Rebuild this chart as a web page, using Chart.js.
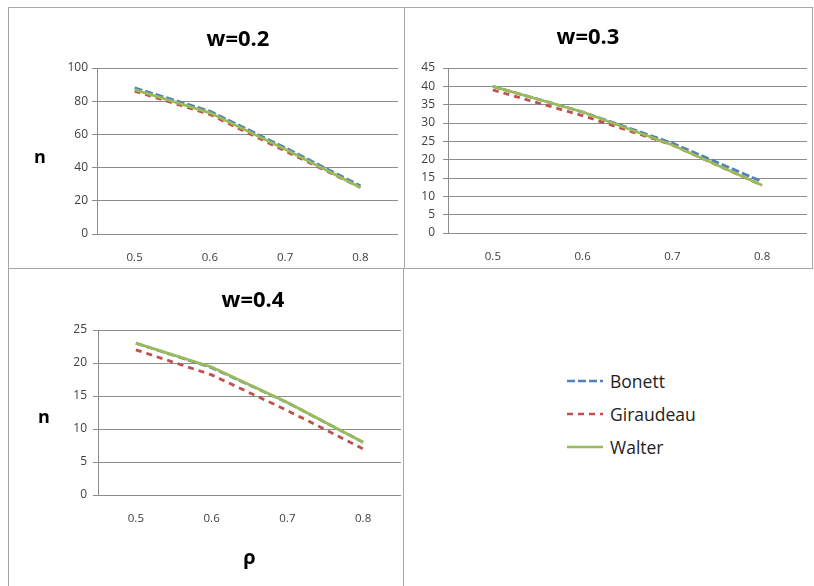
<!DOCTYPE html>
<html>
<head>
<meta charset="utf-8">
<script src="https://cdn.jsdelivr.net/npm/chart.js@4.4.0/dist/chart.umd.min.js"></script>
<style>
  body { margin: 0; background: #fff; font-family: 'Open Sans', sans-serif; }
  #page { position: relative; width: 814px; height: 586px; overflow: hidden; }
  .panel { position: absolute; border: 1px solid #a6a6a6; box-sizing: border-box; }
  canvas { position: absolute; }
  .ttl { position: absolute; font-weight: bold; font-size: 22px; color: #000; transform: translate(-50%, -50%); white-space: nowrap; }
  .ylab { position: absolute; font-weight: bold; font-size: 18px; color: #000; transform: translate(-50%, -50%); }
  .legend { position: absolute; left: 566px; top: 364px; font-size: 17.5px; color: #222; }
  .legend div { height: 33px; display: flex; align-items: center; }
  .legend svg { margin-right: 6px; }
</style>
</head>
<body>
<div id="page">
  <div class="panel" style="left:8px; top:7px; width:397px; height:262px;"></div>
  <div class="panel" style="left:404px; top:7px; width:409px; height:262px;"></div>
  <div class="panel" style="left:8px; top:268px; width:396px; height:330px;"></div>

  <canvas id="c1" width="394" height="259" style="left:9px; top:8px;"></canvas>
  <canvas id="c2" width="406" height="259" style="left:405px; top:8px;"></canvas>
  <canvas id="c3" width="393" height="317" style="left:9px; top:269px;"></canvas>

  <div class="ttl" style="left:238px; top:37px;">w=0.2</div>
  <div class="ttl" style="left:588px; top:35px;">w=0.3</div>
  <div class="ttl" style="left:253px; top:298px;">w=0.4</div>
  <div class="ylab" style="left:40px; top:156px;">n</div>
  <div class="ylab" style="left:44px; top:416px;">n</div>

  <div class="legend" id="legend"></div>
</div>
<script>
// 横轴 ρ
const rho = ['0.5', '0.6', '0.7', '0.8'];

// w=0.2
const bonett02 = [88, 74, 52, 29];
const giraudeau02 = [86, 72, 50, 28];
const walter02 = [87, 73, 51, 28];

// w=0.3
const bonett03 = [40, 33, 24.5, 14];
const giraudeau03 = [39, 32, 24, 13];
const walter03 = [40, 33, 24, 13];

// w=0.4
const bonett04 = [23, 19.3, 14, 8];
const giraudeau04 = [22, 18.2, 12.8, 7];
const walter04 = [23, 19.4, 14, 8];

const seriesNames = ['Bonett', 'Giraudeau', 'Walter'];
const seriesColors = ['#4f81bd', '#c0504d', '#9bbb59'];
const seriesDash = [[8, 3], [6, 5], []];
const seriesOrder = [2, 1, 0]; // Walter 画在最上面

const gridColor = '#8c8c8c';
const tickColor = '#404040';

function buildDatasets(values) {
    return seriesNames.map((name, i) => ({
        label: name,
        data: values[i],
        borderColor: seriesColors[i],
        backgroundColor: seriesColors[i],
        borderWidth: 2.8,
        borderDash: seriesDash[i],
        pointRadius: 0,
        tension: 0,
        order: seriesOrder[i]
    }));
}

function makeChart(id, values, yMax, step, box) {
    const ctx = document.getElementById(id);
    return new Chart(ctx, {
        type: 'line',
        data: {
            labels: rho,
            datasets: buildDatasets(values)
        },
        options: {
            responsive: false,
            animation: false,
            events: [],
            layout: {
                padding: { top: box.top, right: box.right, left: 0, bottom: 0 }
            },
            plugins: {
                legend: { display: false },
                tooltip: { enabled: false }
            },
            scales: {
                x: {
                    offset: true,
                    grid: { display: false, drawTicks: false },
                    border: { display: false },
                    ticks: {
                        font: { family: 'Open Sans', size: 11.5 },
                        color: tickColor,
                        padding: 17,
                        maxRotation: 0
                    },
                    title: box.xTitle ? {
                        display: true,
                        text: box.xTitle,
                        font: { family: 'Open Sans', size: 20, weight: 'bold' },
                        color: '#000',
                        padding: { top: 0, bottom: 16 }
                    } : { display: false },
                    afterFit: function(scale) { scale.height = box.xHeight; }
                },
                y: {
                    min: 0,
                    max: yMax,
                    ticks: {
                        stepSize: step,
                        font: { family: 'Open Sans', size: 12 },
                        color: tickColor,
                        padding: box.tickPad
                    },
                    grid: {
                        color: gridColor,
                        tickColor: gridColor,
                        tickLength: 5
                    },
                    border: { color: gridColor },
                    afterFit: function(scale) { scale.width = box.yWidth; }
                }
            }
        }
    });
}

makeChart('c1', [bonett02, giraudeau02, walter02], 100, 20,
    { top: 60, right: 5, yWidth: 88, xHeight: 33, tickPad: 4 });
makeChart('c2', [bonett03, giraudeau03, walter03], 45, 5,
    { top: 60, right: 4, yWidth: 43, xHeight: 34, tickPad: 8 });
makeChart('c3', [bonett04, giraudeau04, walter04], 25, 5,
    { top: 61, right: 1, yWidth: 89, xHeight: 91, tickPad: 6, xTitle: 'ρ' });

// 图例
const legendEl = document.getElementById('legend');
seriesNames.forEach((name, i) => {
    const row = document.createElement('div');
    const dash = seriesDash[i].length ? seriesDash[i].join(' ') : 'none';
    row.innerHTML = '<svg width="38" height="6"><line x1="1" y1="3" x2="37" y2="3" stroke="' +
        seriesColors[i] + '" stroke-width="2.5" stroke-dasharray="' + dash + '"/></svg>' +
        '<span>' + name + '</span>';
    legendEl.appendChild(row);
});
</script>
</body>
</html>
